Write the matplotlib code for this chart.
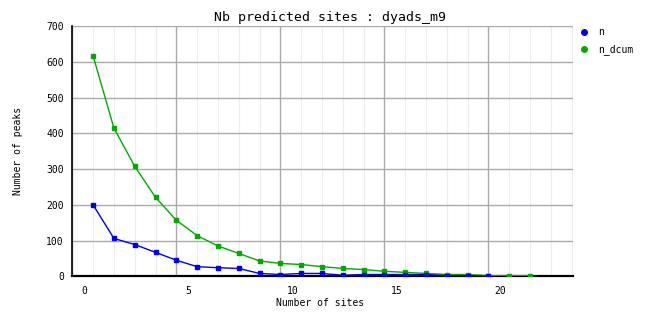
"""
    Nb predicted sites chart (dyads_m9)
"""
import matplotlib
matplotlib.use("Agg")
import matplotlib.pyplot as plt
import matplotlib.transforms as mtransforms
from matplotlib.lines import Line2D
import numpy as np


### chart data
n_vals = [200, 106, 89, 67, 45, 27, 24, 22, 8, 5, 8, 8, 3, 5, 5, 5, 5, 2, 2, 0]
n_dcum_vals = [617, 415, 308, 221, 157, 114, 85, 64, 43, 36, 33, 27, 22, 19,
               14, 11, 8, 5, 5, 2, 2, 2]
x_tick_labels = ["0", "5", "10", "15", "20"]

BLUE = "#0000ee"
GREEN = "#00aa00"
FONT = "DejaVu Sans Mono"

plt.rcParams["font.family"] = FONT

fig = plt.figure(figsize=(6.62, 3.28), dpi=100)
ax = fig.add_axes([72.3 / 662, 51.7 / 328, 500.4 / 662, 250 / 328])

# slot positions: first site sits one unit right of the axis
x_n = np.arange(len(n_vals)) + 1
x_dcum = np.arange(len(n_dcum_vals)) + 1

ax.plot(x_n, n_vals, color=BLUE, lw=1, marker="s", ms=2.2, zorder=4)
ax.plot(x_dcum, n_dcum_vals, color=GREEN, lw=1, marker="s", ms=2.2, zorder=3)

ax.set_xlim(0, 24.05)
ax.set_ylim(0, 700)

# grid: light minor verticals, grey majors
ax.set_xticks(np.arange(1, 25), minor=True)
ax.set_xticks([0, 5, 10, 15, 20])
ax.set_xticklabels(x_tick_labels, fontsize=7)
ax.set_yticks(np.arange(0, 701, 100))
ax.set_yticklabels([str(v) for v in range(0, 701, 100)], fontsize=7)
ax.grid(which="minor", axis="x", color="#ececec", lw=0.8)
ax.grid(which="major", axis="both", color="#aaaaaa", lw=1)
ax.set_axisbelow(True)
ax.tick_params(which="both", length=0)
ax.tick_params(axis="y", pad=6)
ax.tick_params(axis="x", pad=7)

# labels sit a little right of their gridline
offset = mtransforms.ScaledTranslation(12 / 100, 0, fig.dpi_scale_trans)
for lbl in ax.get_xticklabels():
    lbl.set_transform(lbl.get_transform() + offset)

for side in ["top", "right"]:
    ax.spines[side].set_visible(False)
ax.spines["left"].set_color("black")
ax.spines["bottom"].set_color("black")
ax.spines["bottom"].set_linewidth(1.6)
ax.spines["left"].set_linewidth(1.2)

fig.text(330 / 662, 1 - 18 / 328, "Nb predicted sites : dyads_m9",
         ha="center", va="center", fontsize=9.5)
fig.text(320 / 662, 1 - 303 / 328, "Number of sites",
         ha="center", va="center", fontsize=7)
fig.text(18 / 662, 1 - 151 / 328, "Number of peaks",
         ha="center", va="center", rotation=90, fontsize=7)

handles = [
    Line2D([], [], color=BLUE, marker="o", ls="none", ms=4),
    Line2D([], [], color=GREEN, marker="o", ls="none", ms=4),
]
fig.legend(handles, ["n", "n_dcum"], loc="upper left",
           bbox_to_anchor=(580 / 662, 1 - 27 / 328), frameon=False,
           fontsize=7, handlelength=0.8, handletextpad=1.1,
           labelspacing=0.75, borderaxespad=0, borderpad=0)

fig.savefig("out.png", dpi=100)
